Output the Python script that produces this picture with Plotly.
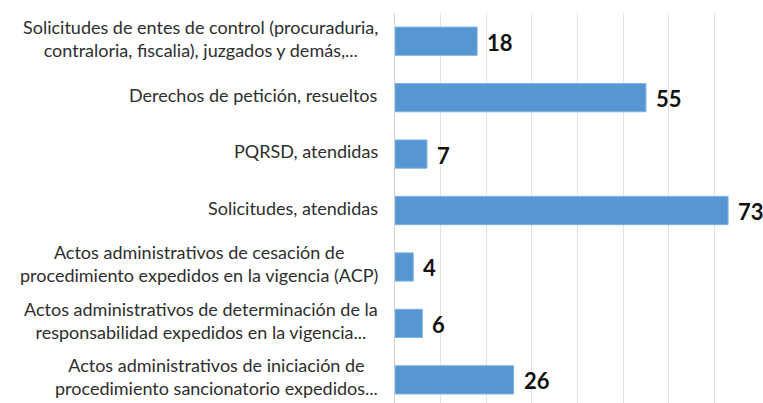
import plotly.graph_objects as go

categories = [
    "Actos administrativos de iniciación de<br>procedimiento sancionatorio expedidos...",
    "Actos administrativos de determinación de la<br>responsabilidad expedidos en la vigencia...",
    "Actos administrativos de cesación de<br>procedimiento expedidos en la vigencia (ACP)",
    "Solicitudes, atendidas",
    "PQRSD, atendidas",
    "Derechos de petición, resueltos",
    "Solicitudes de entes de control (procuraduria,<br>contraloria, fiscalia), juzgados y demás,...",
]
values = [26, 6, 4, 73, 7, 55, 18]

FONT = "Lato, 'Open Sans', sans-serif"

fig = go.Figure()
fig.add_trace(go.Bar(
    x=values, y=categories, orientation="h",
    width=0.5,
    marker=dict(color="#5696D2", line=dict(color="#7FB2E0", width=1)),
    hoverinfo="skip",
))

annotations = []
for c, v in zip(categories, values):
    annotations.append(dict(
        x=v, y=c, xref="x", yref="y", text=f"<b>{v}</b>",
        showarrow=False, xanchor="left", yanchor="middle", xshift=8, yshift=-1,
        font=dict(family=FONT, size=22, color="#111111"),
    ))
    annotations.append(dict(
        x=0, y=c, xref="x", yref="y", text=c,
        showarrow=False, xanchor="right", yanchor="middle", xshift=-15, yshift=3,
        align="center",
        font=dict(family=FONT, size=18, color="#2E2E2E"),
    ))

fig.update_layout(
    width=763, height=403,
    margin=dict(l=395, r=3, t=13, b=0, autoexpand=False),
    paper_bgcolor="white", plot_bgcolor="white",
    showlegend=False,
    annotations=annotations,
    xaxis=dict(range=[0, 80], dtick=10, showgrid=True, gridcolor="#E3E3E3", gridwidth=1,
               showticklabels=False, zeroline=False, showline=False, automargin=False),
    yaxis=dict(range=[-0.41, 6.5], showticklabels=False, showgrid=False, automargin=False,
               showline=True, linecolor="#D0D0D0", linewidth=1, ticks=""),
)

# Remove the browser's default page margin so the figure fills the window exactly.
fig.write_html(
    "out.html",
    config={"displayModeBar": False},
    post_script="document.body.style.margin='0';document.body.style.overflow='hidden';",
)
